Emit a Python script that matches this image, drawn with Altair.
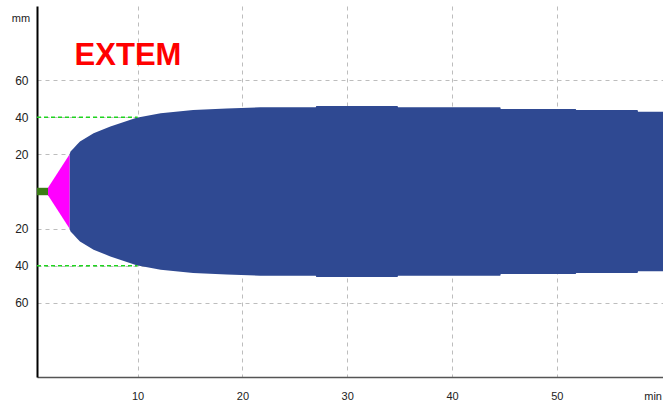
import altair as alt
import pandas as pd

# Time axis in minutes, amplitude in mm (trace is mirrored around 0)
T_START, T_END = 0.4, 60.13

# Clotting time phase (flat green trace)
ct_t = [0.4, 1.45]
ct_amp = [2.0, 2.0]

# Clot formation phase (magenta, from 2 mm up to 20 mm)
cft_t = [1.45, 3.5]
cft_amp = [2.0, 20.0]

# Clot firmness after 20 mm (blue)
firm_t = [3.5, 3.6, 3.9, 4.2, 4.5, 5.8, 7.4, 9.9, 12.2, 15.3, 18.5, 21.7, 27.0,
          27.05, 34.8, 34.85, 44.6, 44.65, 51.8, 51.85, 57.7, 57.75, 60.13]
firm_amp = [20.0, 21.5, 23.3, 25.2, 26.9, 31.4, 35.0, 39.8, 42.2, 43.9, 44.8, 45.4, 45.4,
            46.1, 46.1, 45.4, 45.4, 44.5, 44.5, 43.9, 43.9, 43.0, 43.0]

# A10 marker: 40 mm reached at 10 min
a10_time = 10
a10_amp = 40

x_ticks = [10, 20, 30, 40, 50]
y_ticks = [-60, -40, -20, 20, 40, 60]

FONT = "Liberation Sans"


def trace(t, amp):
    return pd.DataFrame({"t": t, "top": amp, "bottom": [-a for a in amp]})


x_scale = alt.Scale(domain=[T_START, T_END], nice=False, zero=False)
y_scale = alt.Scale(domain=[-100, 100], nice=False)

x_axis = alt.Axis(values=x_ticks, title=None, ticks=False, grid=True,
                  gridColor="#bdbdbd", gridDash=[4, 4], gridWidth=1,
                  domainColor="#555555", domainWidth=1.6,
                  labelFont=FONT, labelFontSize=11, labelColor="#222222",
                  labelPadding=13)
y_axis = alt.Axis(values=y_ticks, title=None, ticks=False, grid=True,
                  gridColor="#bdbdbd", gridDash=[4, 4], gridWidth=1,
                  domainColor="#000000", domainWidth=2,
                  labelFont=FONT, labelFontSize=12, labelColor="#222222",
                  labelPadding=9, labelExpr="abs(datum.value)")

firm = alt.Chart(trace(firm_t, firm_amp)).mark_area(
    color="#2f4992", interpolate="linear"
).encode(
    x=alt.X("t:Q", scale=x_scale, axis=x_axis),
    y=alt.Y("top:Q", scale=y_scale, axis=y_axis),
    y2="bottom:Q",
)

cft = alt.Chart(trace(cft_t, cft_amp)).mark_area(color="#ff00ff").encode(
    x="t:Q", y="top:Q", y2="bottom:Q"
)

ct = alt.Chart(trace(ct_t, ct_amp)).mark_area(color="#3b7d16").encode(
    x="t:Q", y="top:Q", y2="bottom:Q"
)

a10_df = pd.DataFrame({"t0": [T_START, T_START], "t1": [a10_time, a10_time],
                       "amp": [a10_amp, -a10_amp]})
a10 = alt.Chart(a10_df).mark_rule(color="#1fd41f", strokeDash=[4, 3], strokeWidth=1.4).encode(
    x="t0:Q", x2="t1:Q", y="amp:Q"
)

unit_min = alt.Chart(pd.DataFrame({"t": [T_END], "lab": ["min"]})).mark_text(
    font=FONT, fontSize=11, color="#222222", align="right", baseline="alphabetic", dx=-1
).encode(x="t:Q", y=alt.value(394), text="lab:N")

unit_mm = alt.Chart(pd.DataFrame({"lab": ["mm"]})).mark_text(
    font=FONT, fontSize=11, color="#222222", align="center", baseline="middle"
).encode(x=alt.value(-16), y=alt.value(13), text="lab:N")

title = alt.Chart(pd.DataFrame({"lab": ["EXTEM"]})).mark_text(
    font=FONT, fontSize=31, fontWeight="bold", color="#ff0000",
    align="center", baseline="alphabetic"
).encode(x=alt.value(91), y=alt.value(59), text="lab:N")

chart = alt.layer(firm, cft, ct, a10, unit_min, unit_mm, title).properties(
    width=626, height=371,
    padding={"left": 37, "top": 6, "right": 0, "bottom": 29},
    autosize=alt.AutoSizeParams(type="none"),
    background="white",
).configure_view(strokeWidth=0)

chart.save("out.html", embed_options={"renderer": "svg", "actions": False})
